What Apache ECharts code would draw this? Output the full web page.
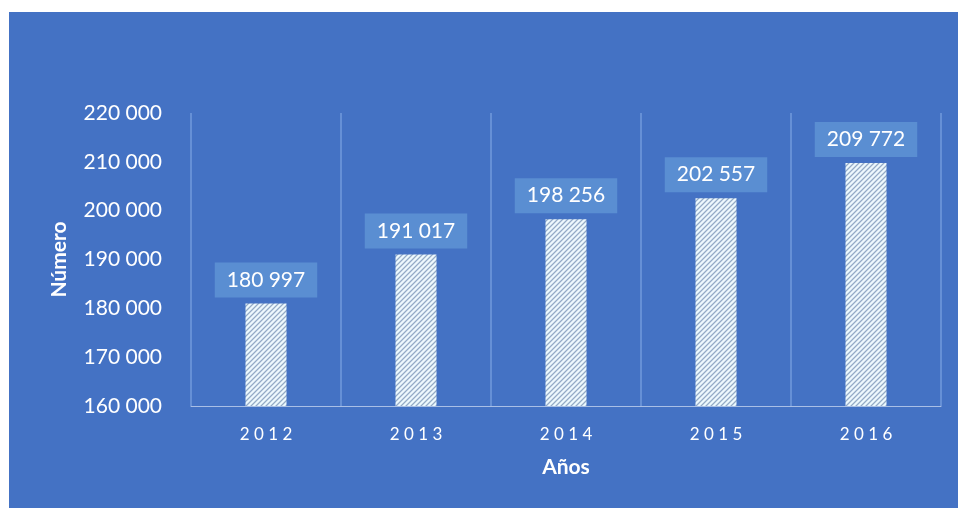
<!DOCTYPE html>
<html>
<head>
<meta charset="utf-8">
<script src="https://cdn.jsdelivr.net/npm/echarts@6/dist/echarts.min.js"></script>
<style>
  html, body { margin: 0; padding: 0; background: #ffffff; width: 958px; height: 508px; overflow: hidden; }
  #chart { position: absolute; left: 9px; top: 12px; width: 949px; height: 496px; }
</style>
</head>
<body>
<div id="chart"></div>
<script>
// Annual totals
const years = ['2012', '2013', '2014', '2015', '2016'];
const totals = [180997, 191017, 198256, 202557, 209772];

// Value axis range
const yMin = 160000;
const yMax = 220000;
const yStep = 10000;

const FONT = 'Lato';

// Thousands with a space separator: 180 997
function fmt(n) {
  return String(n).replace(/\B(?=(\d{3})+(?!\d))/g, ' ');
}

// Diagonal hatch tile for the bars
function hatchTile() {
  const n = 5;
  const c = document.createElement('canvas');
  c.width = n; c.height = n;
  const ctx = c.getContext('2d');
  const img = ctx.createImageData(n, n);
  for (let y = 0; y < n; y++) {
    for (let x = 0; x < n; x++) {
      const k = (x + y) % n;
      let col;
      if (k === 0) col = [150, 170, 196];
      else if (k === 1 || k === 4) col = [198, 216, 232];
      else col = [238, 248, 252];
      const i = (y * n + x) * 4;
      img.data[i] = col[0]; img.data[i + 1] = col[1]; img.data[i + 2] = col[2]; img.data[i + 3] = 255;
    }
  }
  ctx.putImageData(img, 0, 0);
  return c;
}

const chart = echarts.init(document.getElementById('chart'));
chart.setOption({
  backgroundColor: '#4472c4',
  animation: false,
  grid: { left: 182, right: 17, top: 101, bottom: 102 },
  xAxis: {
    type: 'category',
    data: years,
    name: 'Años',
    nameLocation: 'middle',
    nameGap: 51,
    nameTextStyle: { color: '#ffffff', fontFamily: FONT, fontWeight: 'bold', fontSize: 21 },
    axisLine: { show: true, lineStyle: { color: '#a9bfe6', width: 1 } },
    axisTick: { show: false },
    axisLabel: {
      color: '#ffffff', fontFamily: FONT, fontSize: 17, margin: 20,
      formatter: v => v.split('').join(' ')
    },
    splitLine: { show: true, lineStyle: { color: '#6690d6', width: 2 } }
  },
  yAxis: {
    type: 'value',
    min: yMin,
    max: yMax,
    interval: yStep,
    name: 'Número',
    nameLocation: 'middle',
    nameGap: 121,
    nameTextStyle: { color: '#ffffff', fontFamily: FONT, fontWeight: 'bold', fontSize: 21 },
    axisLine: { show: false },
    axisTick: { show: false },
    splitLine: { show: false },
    axisLabel: { color: '#ffffff', fontFamily: FONT, fontSize: 21, margin: 29, formatter: v => fmt(v) }
  },
  series: [{
    type: 'bar',
    data: totals,
    barWidth: 41,
    itemStyle: { color: { image: hatchTile(), repeat: 'repeat' } },
    label: {
      show: true,
      position: 'top',
      distance: 6,
      color: '#ffffff',
      fontFamily: FONT,
      fontSize: 21,
      backgroundColor: '#5a8ed2',
      padding: [7, 12],
      formatter: p => fmt(p.value)
    }
  }]
});
</script>
</body>
</html>
